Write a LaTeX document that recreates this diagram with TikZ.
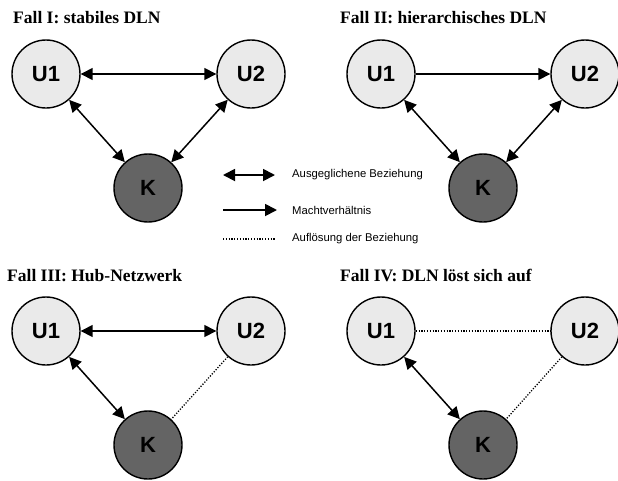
\documentclass[tikz,border=0pt]{standalone}
\usepackage{fontspec}
\setmainfont{Liberation Serif}
\newfontfamily\arialfont{Liberation Sans}
\usepackage{tikz}
\usetikzlibrary{positioning, arrows.meta}
\definecolor{ufill}{HTML}{EAEAEA}
\definecolor{kfill}{HTML}{646464}

\begin{document}
\begin{tikzpicture}[x=1pt, y=-1pt,
    actor/.style={circle, draw, line width=1.4pt, minimum size=68pt, inner sep=0pt,
        font=\arialfont\bfseries\fontsize{22}{22}\selectfont},
    unode/.style={actor, fill=ufill},
    knode/.style={actor, fill=kfill},
    title/.style={anchor=base west, inner sep=0pt, font=\bfseries\fontsize{17.5}{17.5}\selectfont},
    legtext/.style={anchor=west, inner sep=0pt, font=\arialfont\fontsize{11.3}{11.3}\selectfont},
    both/.style={{Triangle[length=12pt,width=12pt]}-{Triangle[length=12pt,width=12pt]}, line width=1.5pt},
    power/.style={-{Triangle[length=12pt,width=12pt]}, line width=1.5pt},
    gone/.style={dash pattern=on 1.2pt off 1.6pt, line width=1.3pt}]
    \useasboundingbox (0,0) rectangle (618,480);

    % Fall I
    \node[title](t1) at (13,23){Fall I: stabiles DLN};
    \node[unode](u1a) at (46,74){U1};
    \node[unode](u2a) at (251,74){U2};
    \node[knode](ka) at (148,188){K};
    \draw[both](u1a)--(u2a);
    \draw[both](u1a)--(ka);
    \draw[both](u2a)--(ka);

    % Fall II
    \node[title](t2) at (340,23){Fall II: hierarchisches DLN};
    \node[unode](u1b) at (381,74){U1};
    \node[unode](u2b) at (585,74){U2};
    \node[knode](kb) at (483,188){K};
    \draw[power](u1b)--(u2b);
    \draw[both](u1b)--(kb);
    \draw[both](u2b)--(kb);

    % Legende
    \coordinate(la) at (223,175);
    \coordinate(lb) at (275,175);
    \coordinate(lc) at (223,210);
    \coordinate(ld) at (277,210);
    \coordinate(le) at (223,239);
    \coordinate(lf) at (275,239);
    \draw[both, line width=1.8pt](la)--(lb);
    \draw[power, line width=1.8pt](lc)--(ld);
    \draw[gone](le)--(lf);
    \node[legtext](l1) at (292,175){Ausgeglichene Beziehung};
    \node[legtext](l2) at (292,210){Machtverhältnis};
    \node[legtext](l3) at (292,239){Auflösung der Beziehung};

    % Fall III
    \node[title](t3) at (7,281){Fall III: Hub-Netzwerk};
    \node[unode](u1c) at (46,331){U1};
    \node[unode](u2c) at (251,331){U2};
    \node[knode](kc) at (148,445){K};
    \draw[both](u1c)--(u2c);
    \draw[both](u1c)--(kc);
    \draw[gone](u2c)--(kc);

    % Fall IV
    \node[title](t4) at (340,281){Fall IV: DLN löst sich auf};
    \node[unode](u1d) at (381,331){U1};
    \node[unode](u2d) at (585,331){U2};
    \node[knode](kd) at (483,445){K};
    \draw[gone](u1d)--(u2d);
    \draw[both](u1d)--(kd);
    \draw[gone](u2d)--(kd);
\end{tikzpicture}
\end{document}
